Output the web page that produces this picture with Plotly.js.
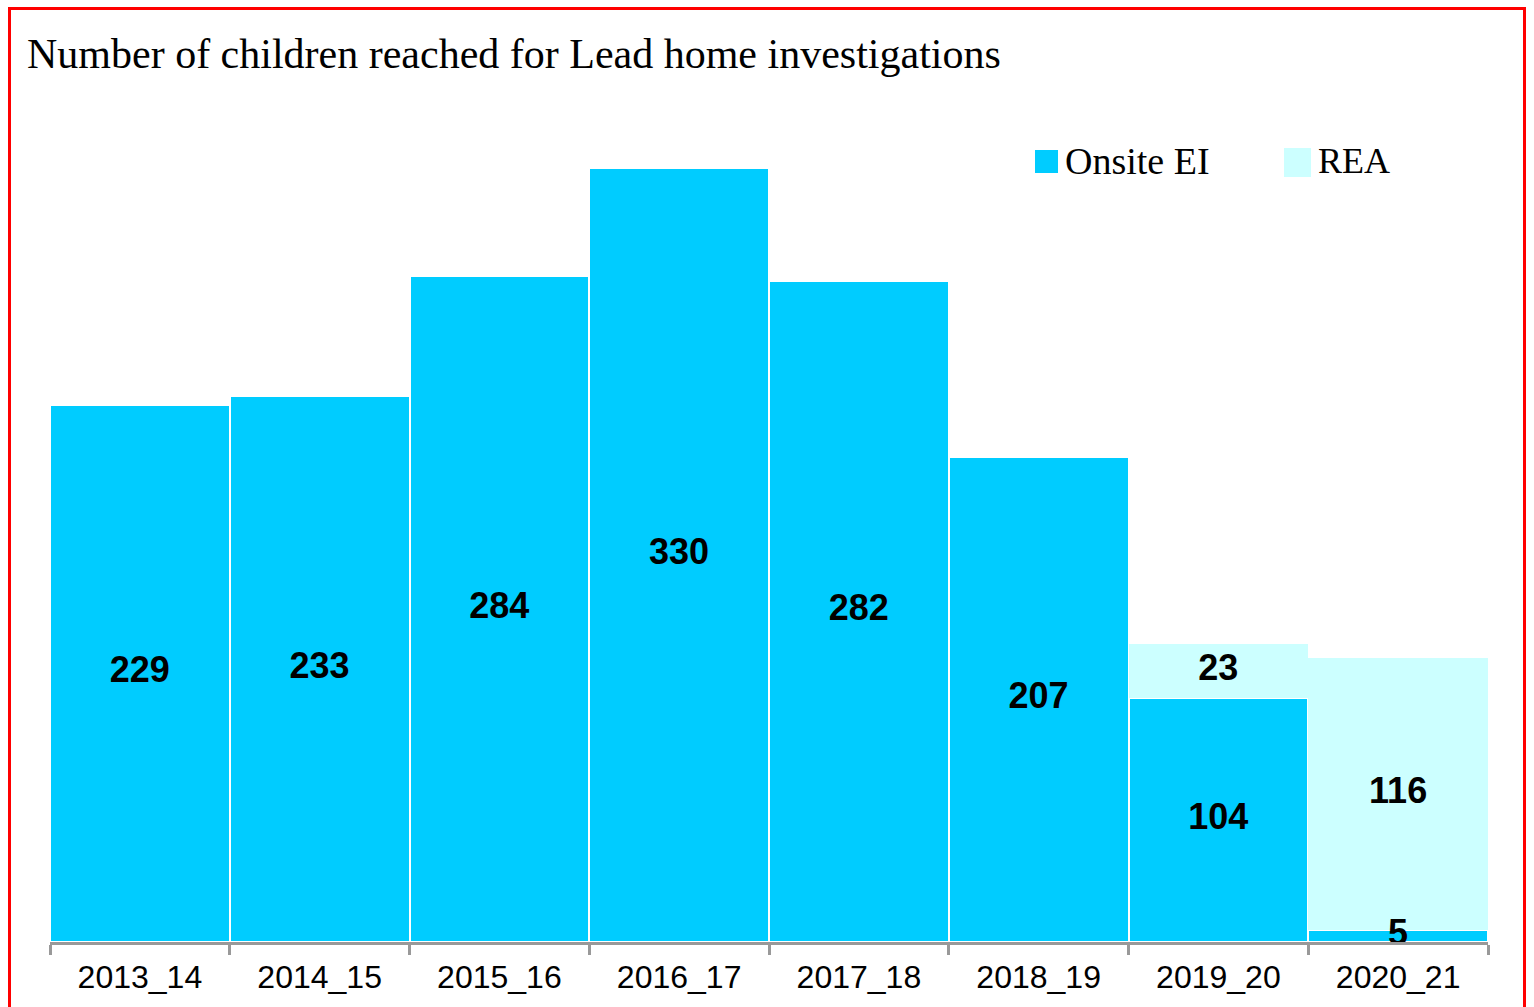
<!DOCTYPE html>
<html>
<head>
<meta charset="utf-8">
<script src="https://cdn.plot.ly/plotly-3.0.1.min.js"></script>
<style>
  html, body { margin: 0; padding: 0; background: #ffffff; }
  #wrap { position: relative; width: 1534px; height: 1007px; overflow: hidden; }
  #chart { position: absolute; left: 0; top: 0; width: 1534px; height: 1007px; }
  #frame { position: absolute; left: 8px; top: 7px; width: 1512px; height: 1010px;
           border: 3px solid #ff0000; pointer-events: none; }
</style>
</head>
<body>
<div id="wrap">
  <div id="chart"></div>
  <div id="frame"></div>
</div>
<script>
// ---- data ----
const years = ["2013_14", "2014_15", "2015_16", "2016_17", "2017_18", "2018_19", "2019_20", "2020_21"];
const onsiteEI = [229, 233, 284, 330, 282, 207, 104, 5];
const rea = [null, null, null, null, null, null, 23, 116];
const seriesNames = ["Onsite EI", "REA"];
const titleText = "Number of children reached for Lead home investigations";

// ---- layout helpers (pixel -> paper) ----
const W = 1534, H = 1007;
const mL = 50, mR = W - 1488, mT = 120, mB = H - 942;
const pw = W - mL - mR, ph = H - mT - mB;
const px = v => (v - mL) / pw;
const py = v => (H - mB - v) / ph;

const blue = "#00CCFF", light = "#CCFFFF";
const labelFont = { family: "Liberation Sans, Arial, sans-serif", size: 36, color: "#000000", weight: "bold" };

// label positions: centre of each stacked segment (drawn above bars so small segments stay readable)
const labX = [], labY = [], labT = [];
years.forEach((yr, i) => {
  const o = onsiteEI[i] || 0;
  if (onsiteEI[i] != null) { labX.push(yr); labY.push(o / 2); labT.push(String(onsiteEI[i])); }
  if (rea[i] != null) { labX.push(yr); labY.push(o + rea[i] / 2); labT.push(String(rea[i])); }
});

const traces = [
  {
    type: "bar", name: seriesNames[0], x: years, y: onsiteEI,
    marker: { color: blue, line: { color: "#ffffff", width: 2 } },
    textposition: "none", hoverinfo: "skip"
  },
  {
    type: "bar", name: seriesNames[1], x: years, y: rea,
    marker: { color: light, line: { width: 0 } },
    textposition: "none", hoverinfo: "skip"
  },
  {
    type: "scatter", mode: "text", x: labX, y: labY, text: labT,
    textposition: "middle center", textfont: labelFont,
    cliponaxis: false, hoverinfo: "skip", showlegend: false
  }
];

const layout = {
  width: W, height: H,
  margin: { l: mL, r: mR, t: mT, b: mB, pad: 0 },
  paper_bgcolor: "#ffffff", plot_bgcolor: "#ffffff",
  barmode: "stack", bargap: 0,
  showlegend: false,
  title: {
    text: titleText,
    x: 27 / W, xanchor: "left", xref: "container",
    y: 1 - 53 / H, yanchor: "middle", yref: "container",
    font: { family: "Liberation Serif, Times New Roman, serif", size: 42, color: "#000000" }
  },
  xaxis: {
    type: "category", showgrid: false, zeroline: false,
    showline: true, linecolor: "#999999", linewidth: 3,
    ticks: "outside", tickson: "boundaries", ticklen: 10, tickwidth: 3, tickcolor: "#999999",
    ticklabelstandoff: 5,
    tickfont: { family: "Liberation Sans, Arial, sans-serif", size: 32, color: "#000000" },
    fixedrange: true
  },
  yaxis: {
    range: [0, 350.5], visible: false, showgrid: false, zeroline: false, fixedrange: true
  },
  shapes: [
    { type: "rect", xref: "paper", yref: "paper", x0: px(1035), x1: px(1058), y0: py(173), y1: py(150),
      fillcolor: blue, line: { width: 0 } },
    { type: "rect", xref: "paper", yref: "paper", x0: px(1284), x1: px(1311), y0: py(177), y1: py(148),
      fillcolor: light, line: { width: 0 } }
  ],
  annotations: [
    { text: seriesNames[0], xref: "paper", yref: "paper", x: px(1063), y: py(161),
      xanchor: "left", yanchor: "middle", showarrow: false,
      font: { family: "Liberation Serif, Times New Roman, serif", size: 38, color: "#000000" } },
    { text: seriesNames[1], xref: "paper", yref: "paper", x: px(1316), y: py(161),
      xanchor: "left", yanchor: "middle", showarrow: false,
      font: { family: "Liberation Serif, Times New Roman, serif", size: 36, color: "#000000" } }
  ]
};

Plotly.newPlot("chart", traces, layout, { displayModeBar: false, staticPlot: true });
</script>
</body>
</html>
